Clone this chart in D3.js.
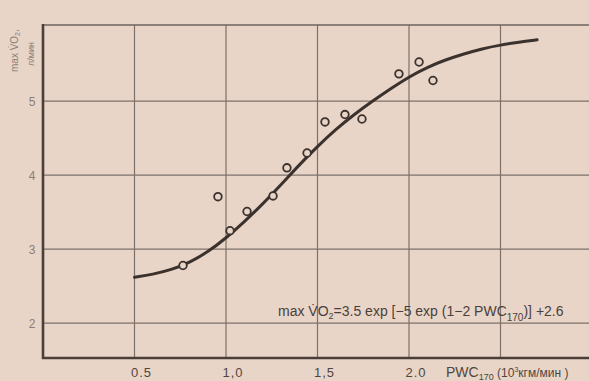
<!DOCTYPE html>
<html>
<head>
<meta charset="utf-8">
<script src="https://cdn.jsdelivr.net/npm/d3@7"></script>
<style>
  html, body { margin: 0; padding: 0; background: #e8d5c7; }
  svg { display: block; }
</style>
</head>
<body>
<div id="chart"></div>
<script>
// PWC170 (10^3 kgm/min) vs max VO2 (l/min)
const pwcTicks = [0.5, 1.0, 1.5, 2.0, 2.5];
const pwcTickLabels = ["0.5", "1,0", "1,5", "2.0", ""];
const vo2Ticks = [2, 3, 4, 5];
const vo2TickLabels = ["2", "3", "4", "5"];

// measured subjects
const pointPwc = [0.765, 0.956, 1.022, 1.115, 1.257, 1.333, 1.443, 1.541, 1.650, 1.743, 1.945, 2.055, 2.131];
const pointVo2 = [2.78, 3.71, 3.25, 3.51, 3.72, 4.10, 4.30, 4.72, 4.82, 4.76, 5.37, 5.53, 5.28];

// fitted curve
const curvePwc = [0.5, 0.6, 0.7, 0.8, 0.9, 1.0, 1.1, 1.2, 1.3, 1.4, 1.5, 1.6, 1.7, 1.8, 1.9, 2.0, 2.1, 2.2, 2.3, 2.4, 2.5, 2.6, 2.7];
const curveVo2 = [2.62, 2.66, 2.72, 2.82, 2.96, 3.15, 3.37, 3.61, 3.87, 4.14, 4.39, 4.62, 4.82, 5.00, 5.17, 5.33, 5.46, 5.56, 5.64, 5.71, 5.76, 5.80, 5.83];

const W = 589, H = 381;
const ink = '#3b312d', grid = '#7c716b', bg = '#e8d5c7';

const svg = d3.select('#chart')
    .append('svg')
    .attr('width', W)
    .attr('height', H)
    .style('background', bg);

const x = d3.scaleLinear().domain([0, 3]).range([43, 592]);
const y = d3.scaleLinear().domain([1.53, 6.03]).range([358, 25]);

// grid
svg.append('g')
    .selectAll('line')
    .data(vo2Ticks)
    .join('line')
    .attr('x1', 43).attr('x2', W)
    .attr('y1', d => y(d)).attr('y2', d => y(d))
    .attr('stroke', grid)
    .attr('stroke-width', 1.2);

svg.append('g')
    .selectAll('line')
    .data(pwcTicks)
    .join('line')
    .attr('x1', d => x(d)).attr('x2', d => x(d))
    .attr('y1', y(6.03)).attr('y2', y(1.53))
    .attr('stroke', grid)
    .attr('stroke-width', 1.2);

// frame
svg.append('line')
    .attr('x1', 43).attr('x2', W)
    .attr('y1', y(6.03)).attr('y2', y(6.03))
    .attr('stroke', '#6e625c')
    .attr('stroke-width', 1.6);

svg.append('line')
    .attr('x1', 43).attr('x2', 43)
    .attr('y1', y(6.03) - 1).attr('y2', y(1.53) + 1)
    .attr('stroke', '#4a3f3a')
    .attr('stroke-width', 2.6);

svg.append('line')
    .attr('x1', 42).attr('x2', W)
    .attr('y1', y(1.53)).attr('y2', y(1.53))
    .attr('stroke', '#4a3f3a')
    .attr('stroke-width', 2.6);

// tick labels
svg.append('g')
    .selectAll('text')
    .data(pwcTicks)
    .join('text')
    .attr('x', d => x(d) + 7)
    .attr('y', 377)
    .attr('text-anchor', 'middle')
    .attr('font-family', 'Liberation Sans, Arial, sans-serif')
    .attr('font-size', 13)
    .attr('letter-spacing', 1)
    .attr('fill', '#51463f')
    .text((d, i) => pwcTickLabels[i]);

svg.append('g')
    .selectAll('text')
    .data(vo2Ticks)
    .join('text')
    .attr('x', 32)
    .attr('y', d => y(d) + 4.5)
    .attr('text-anchor', 'middle')
    .attr('font-family', 'Liberation Sans, Arial, sans-serif')
    .attr('font-size', 12)
    .attr('fill', '#8a7e78')
    .text((d, i) => vo2TickLabels[i]);

// x axis title
const xt = svg.append('text')
    .attr('x', 446)
    .attr('y', 377)
    .attr('font-family', 'Liberation Sans, Arial, sans-serif')
    .attr('font-size', 14)
    .attr('fill', '#51463f');
xt.append('tspan').text('PWC');
xt.append('tspan').attr('font-size', 9).attr('dy', 3).text('170');
xt.append('tspan').attr('font-size', 12).attr('dy', -3).text(' (10');
xt.append('tspan').attr('font-size', 7).attr('dy', -5).text('3');
xt.append('tspan').attr('font-size', 12).attr('dy', 5).text('кгм/мин )');

// y axis title, rotated
const yt = svg.append('g')
    .attr('transform', 'translate(18,72) rotate(-90)')
    .attr('font-family', 'Liberation Sans, Arial, sans-serif')
    .attr('fill', '#8a7e78');
const yt1 = yt.append('text').attr('x', 0).attr('y', 0).attr('font-size', 10);
yt1.append('tspan').text('max V\u0307O');
yt1.append('tspan').attr('font-size', 7).attr('dy', 2).text('2');
yt1.append('tspan').attr('dy', -2).text(',');
yt.append('text')
    .attr('x', 6).attr('y', 16)
    .attr('font-size', 9)
    .text('л/мин');

// fitted curve
const line = d3.line()
    .x(d => x(d[0]))
    .y(d => y(d[1]))
    .curve(d3.curveBasis);

svg.append('path')
    .datum(curvePwc.map((p, i) => [p, curveVo2[i]]))
    .attr('d', line)
    .attr('fill', 'none')
    .attr('stroke', ink)
    .attr('stroke-width', 3)
    .attr('stroke-linecap', 'round');

// data points
svg.append('g')
    .selectAll('circle')
    .data(pointPwc.map((p, i) => [p, pointVo2[i]]))
    .join('circle')
    .attr('cx', d => x(d[0]))
    .attr('cy', d => y(d[1]))
    .attr('r', 3.8)
    .attr('fill', bg)
    .attr('stroke', ink)
    .attr('stroke-width', 1.8);

// formula
const ft = svg.append('text')
    .attr('x', 278)
    .attr('y', 316)
    .attr('font-family', 'Liberation Sans Narrow, Liberation Sans, Arial, sans-serif')
    .attr('font-size', 14)
    .attr('fill', '#4a403b');
ft.append('tspan').text('max V\u0307O');
ft.append('tspan').attr('font-size', 9).attr('dy', 3).text('2');
ft.append('tspan').attr('dy', -3).text('=3.5 exp [\u22125 exp (1\u22122 PWC');
ft.append('tspan').attr('font-size', 10).attr('dy', 5).text('170');
ft.append('tspan').attr('dy', -5).text(')] +2.6');
</script>
</body>
</html>
